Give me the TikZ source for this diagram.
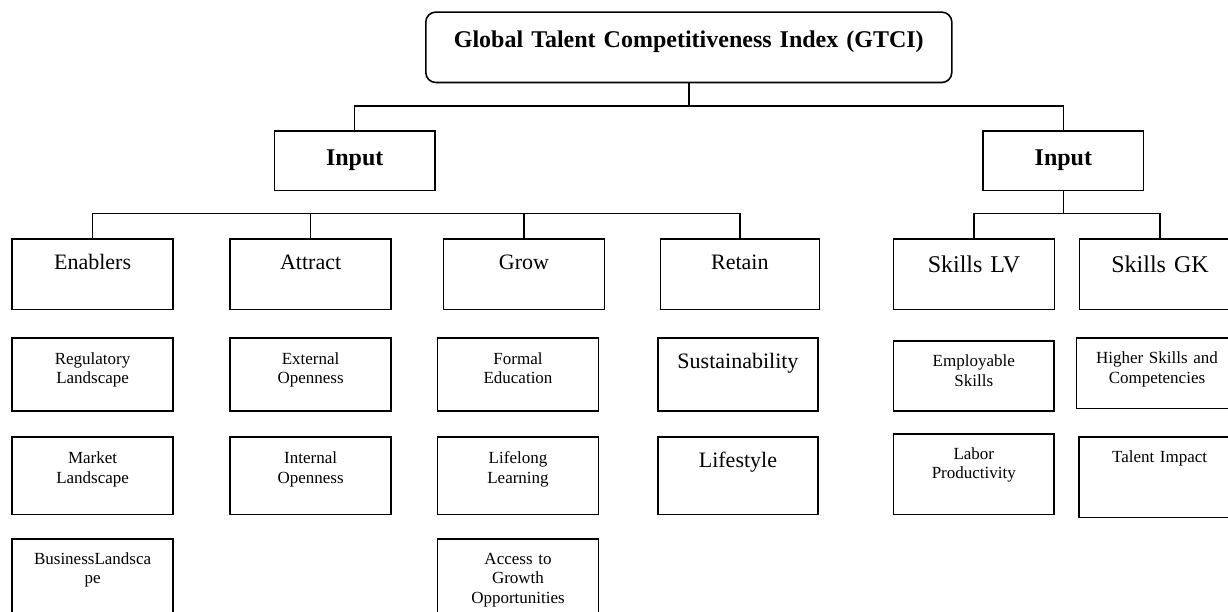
\documentclass[tikz,border=0pt]{standalone}
\usepackage{fontspec}
\setmainfont{Liberation Serif}
\usepackage{tikz}
\usetikzlibrary{positioning}
\tikzstyle{cell}=[rectangle, draw=black, line width=1.6pt, inner sep=0pt, align=center, anchor=north west, text width=161pt]
\tikzstyle{gtci}=[cell, rounded corners=10pt, text width=526pt, text height=35.4pt, text depth=35pt, font=\bfseries\fontsize{24}{28}\selectfont]
\tikzstyle{inbox}=[cell, text width=160.5pt, text height=34pt, text depth=25.4pt, font=\bfseries\fontsize{24}{28}\selectfont]
\tikzstyle{pillar}=[cell, text height=31pt, text depth=39.7pt, font=\fontsize{22}{26}\selectfont]
\tikzstyle{skill}=[pillar, text height=33.7pt, text depth=37pt, font=\fontsize{24}{28}\selectfont]
\tikzstyle{sub}=[cell, text height=26pt, text depth=47pt, font=\fontsize{17}{19.6}\selectfont]
\tikzstyle{subbig}=[sub, text height=30.7pt, text depth=42.3pt, font=\fontsize{22}{26}\selectfont]
\tikzstyle{link}=[draw=black, line width=1.4pt]

\begin{document}
\begin{tikzpicture}[x=1pt, y=-1pt]
	\useasboundingbox (0,0) rectangle (1228,612);
	\clip (0,0) rectangle (1228,612);
	% index and the two input groups
	\node (gtci) at (425,11.3) [gtci] {Global Talent Competitiveness Index (GTCI)};
	\node (inL) at (273.7,130.3) [inbox] {Input};
	\node (inR) at (982.3,130.3) [inbox] {Input};
	% pillars
	\node (enablers) at (11.3,238) [pillar] {Enablers};
	\node (attract) at (229.3,238) [pillar] {Attract};
	\node (grow) at (442.7,238) [pillar] {Grow};
	\node (retain) at (659.5,238) [pillar, text width=159pt] {Retain};
	\node (skLV) at (892.7,238) [skill] {Skills LV};
	\node (skGK) at (1078.7,238) [skill] {Skills GK};
	% sub-pillars
	\node (reg) at (11.3,337.3) [sub] {Regulatory\\Landscape};
	\node (market) [sub, below = 24.1pt of reg, text height=26.7pt, text depth=51pt] {Market\\Landscape};
	\node (business) [sub, below = 22.7pt of market, text height=25.3pt, text depth=56pt] {BusinessLandsca\\pe};
	\node (ext) at (229.3,337.3) [sub] {External\\Openness};
	\node (int) [sub, below = 24.1pt of ext, text height=26.7pt, text depth=51pt] {Internal\\Openness};
	\node (formal) at (436.7,337.3) [sub] {Formal\\Education};
	\node (lifelong) [sub, below = 24.1pt of formal, text height=26.7pt, text depth=51pt] {Lifelong\\Learning};
	\node (access) [sub, below = 22.7pt of lifelong, text height=25.3pt, text depth=56pt] {Access to\\Growth\\Opportunities};
	\node (sust) at (657,337.3) [subbig, text width=160.3pt] {Sustainability};
	\node (life) [subbig, below = 24.1pt of sust, text width=160.3pt, text depth=47pt] {Lifestyle};
	\node (employ) at (892.7,340.3) [sub, text width=160.6pt, text height=25.7pt, text depth=44.3pt] {Employable\\Skills};
	\node (labor) [sub, below = 21.4pt of employ, text width=160.6pt, text height=25pt, text depth=55.4pt] {Labor\\Productivity};
	\node (higher) at (1075.7,337.3) [sub, text height=25.4pt, text depth=45pt] {Higher Skills and\\Competencies};
	\node (talent) at (1078.3,436) [sub, text height=25.7pt, text depth=55pt] {Talent Impact};
	% connectors
	\coordinate (tbus) at (688.2,106);
	\coordinate (bus2) at (0,213.7);
	\draw[link] (gtci.south) -- (gtci.south |- tbus);
	\draw[link] (inL.north) |- (tbus) -| (inR.north);
	\draw[link] (enablers.north) |- (retain.north |- bus2) -- (retain.north);
	\draw[link] (attract.north) -- (attract.north |- bus2);
	\draw[link] (grow.north) -- (grow.north |- bus2);
	\draw[link] (inR.south) -- (inR.south |- bus2);
	\draw[link] (skLV.north) |- (skGK.north |- bus2) -- (skGK.north);
\end{tikzpicture}
\end{document}
